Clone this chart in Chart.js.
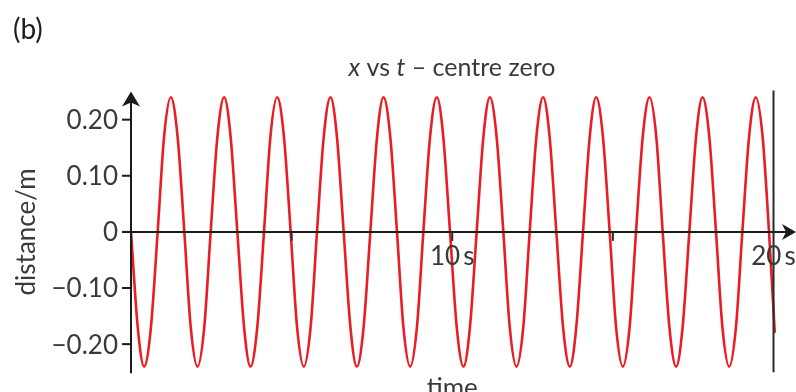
<!DOCTYPE html>
<html>
<head>
<meta charset="utf-8">
<script src="https://cdn.jsdelivr.net/npm/chart.js@4/dist/chart.umd.min.js"></script>
<style>
html,body{margin:0;padding:0;background:#fff;}
#wrap{position:relative;width:796px;height:392px;}
</style>
</head>
<body>
<div id="wrap"><canvas id="xtChart"></canvas></div>
<script>
// x vs t - centre zero (eighth-period points)
const timeSeconds=[
0.00,0.21,0.41,0.62,0.83,1.03,1.24,1.45,
1.66,1.86,2.07,2.28,2.48,2.69,2.90,3.10,
3.31,3.52,3.72,3.93,4.14,4.34,4.55,4.76,
4.97,5.17,5.38,5.59,5.79,6.00,6.21,6.41,
6.62,6.83,7.03,7.24,7.45,7.66,7.86,8.07,
8.28,8.48,8.69,8.90,9.10,9.31,9.52,9.72,
9.93,10.14,10.35,10.55,10.76,10.97,11.17,11.38,
11.59,11.79,12.00,12.21,12.41,12.62,12.83,13.03,
13.24,13.45,13.66,13.86,14.07,14.28,14.48,14.69,
14.90,15.10,15.31,15.52,15.72,15.93,16.14,16.35,
16.55,16.76,16.97,17.17,17.38,17.59,17.79,18.00,
18.21,18.41,18.62,18.83,19.03,19.24,19.45,19.66,
19.86,20.04
]
const distanceMetres=[
0,-0.17,-0.24,-0.17,0,0.17,0.24,0.17,
0,-0.17,-0.24,-0.17,0,0.17,0.24,0.17,
0,-0.17,-0.24,-0.17,0,0.17,0.24,0.17,
0,-0.17,-0.24,-0.17,0,0.17,0.24,0.17,
0,-0.17,-0.24,-0.17,0,0.17,0.24,0.17,
0,-0.17,-0.24,-0.17,0,0.17,0.24,0.17,
0,-0.17,-0.24,-0.17,0,0.17,0.24,0.17,
0,-0.17,-0.24,-0.17,0,0.17,0.24,0.17,
0,-0.17,-0.24,-0.17,0,0.17,0.24,0.17,
0,-0.17,-0.24,-0.17,0,0.17,0.24,0.17,
0,-0.17,-0.24,-0.17,0,0.17,0.24,0.17,
0,-0.17,-0.24,-0.17,0,0.17,0.24,0.17,
0,-0.18
]

// axis ticks
const yTicks=[0.2,0.1,0,-0.1,-0.2]
const yTickLabels=["0.20","0.10","0","\u22120.10","\u22120.20"]
const xTicks=[5,10,15,20]
const xTickLabels=["","10\u2009s","","20\u2009s"]

const FONT="Lato, 'Open Sans', sans-serif"
const TEXT="#3a3a3a"
const AXIS="#1b1b1b"

// axes, arrows and labels drawn on top of the curve
const axesPlugin={
id:"axesPlugin",
afterDatasetsDraw(chart){
const ctx=chart.ctx
const xs=chart.scales.x, ys=chart.scales.y
const x0=xs.getPixelForValue(0), y0=ys.getPixelForValue(0)
ctx.save()

// y axis with arrow
ctx.strokeStyle=AXIS
ctx.fillStyle=AXIS
ctx.lineWidth=2
const yTop=ys.getPixelForValue(0.25)
ctx.beginPath()
ctx.moveTo(x0,ys.getPixelForValue(-0.252))
ctx.lineTo(x0,yTop+10)
ctx.stroke()
ctx.beginPath()
ctx.moveTo(x0,yTop)
ctx.lineTo(x0+9,yTop+15)
ctx.lineTo(x0,yTop+11)
ctx.lineTo(x0-9,yTop+15)
ctx.closePath()
ctx.fill()

// x axis with arrow
const xEnd=chart.width
ctx.beginPath()
ctx.moveTo(x0-9,y0)
ctx.lineTo(xEnd-8,y0)
ctx.stroke()
ctx.beginPath()
ctx.moveTo(xEnd,y0)
ctx.lineTo(xEnd-14,y0-8)
ctx.lineTo(xEnd-10,y0)
ctx.lineTo(xEnd-14,y0+8)
ctx.closePath()
ctx.fill()

// y ticks + labels
ctx.font="26px "+FONT
ctx.textAlign="right"
ctx.textBaseline="middle"
yTicks.forEach((v,i)=>{
const py=ys.getPixelForValue(v)
ctx.strokeStyle=AXIS
ctx.beginPath()
ctx.moveTo(x0-9,py)
ctx.lineTo(x0,py)
ctx.stroke()
ctx.fillStyle=TEXT
ctx.fillText(yTickLabels[i],x0-13,py+1)
})

// x ticks + labels
ctx.textAlign="center"
ctx.textBaseline="top"
xTicks.forEach((v,i)=>{
const px=xs.getPixelForValue(v)
ctx.strokeStyle="#2a2a2a"
ctx.beginPath()
if(v===20){
ctx.moveTo(px,ys.getPixelForValue(0.252))
ctx.lineTo(px,ys.getPixelForValue(-0.25))
}else{
ctx.moveTo(px,y0)
ctx.lineTo(px,y0+9)
}
ctx.stroke()
if(xTickLabels[i]){
ctx.fillStyle=TEXT
ctx.fillText(xTickLabels[i],px,y0+12)
}
})

// axis titles
ctx.fillStyle=TEXT
ctx.textBaseline="middle"
ctx.fillText("time",xs.getPixelForValue(10),389)
ctx.save()
ctx.translate(27,y0)
ctx.rotate(-Math.PI/2)
ctx.fillText("distance/m",0,0)
ctx.restore()

// panel letter
ctx.font="28px "+FONT
ctx.fillStyle="#1e1e1e"
ctx.textAlign="left"
ctx.fillText("(b)",13,30)

// title with italic symbols
const parts=[["x",true],[" vs ",false],["t",true],[" \u2013 centre zero",false]]
const fnt=it=>(it?"italic ":"")+"25px "+FONT
let total=0
parts.forEach(p=>{ctx.font=fnt(p[1]);total+=ctx.measureText(p[0]).width})
let cx=452-total/2
ctx.fillStyle=TEXT
ctx.textBaseline="alphabetic"
parts.forEach(p=>{
ctx.font=fnt(p[1])
ctx.fillText(p[0],cx,76)
cx+=ctx.measureText(p[0]).width
})

ctx.restore()
}
}

new Chart(document.getElementById("xtChart"),{
type:"line",
data:{
datasets:[
{
label:"x vs t",
data:timeSeconds.map((t,i)=>({x:t,y:distanceMetres[i]})),
borderColor:"#ea1c24",
borderWidth:2.6,
pointRadius:0,
cubicInterpolationMode:"monotone",
fill:false
}
]
},
options:{
responsive:true,
maintainAspectRatio:false,
animation:false,
layout:{padding:{left:131,right:0,top:86,bottom:17}},
plugins:{legend:{display:false},tooltip:{enabled:false},title:{display:false}},
scales:{
x:{type:"linear",min:0,max:20.7,display:false},
y:{min:-0.255,max:0.26,display:false}
}
},
plugins:[axesPlugin]
})
</script>
</body>
</html>
